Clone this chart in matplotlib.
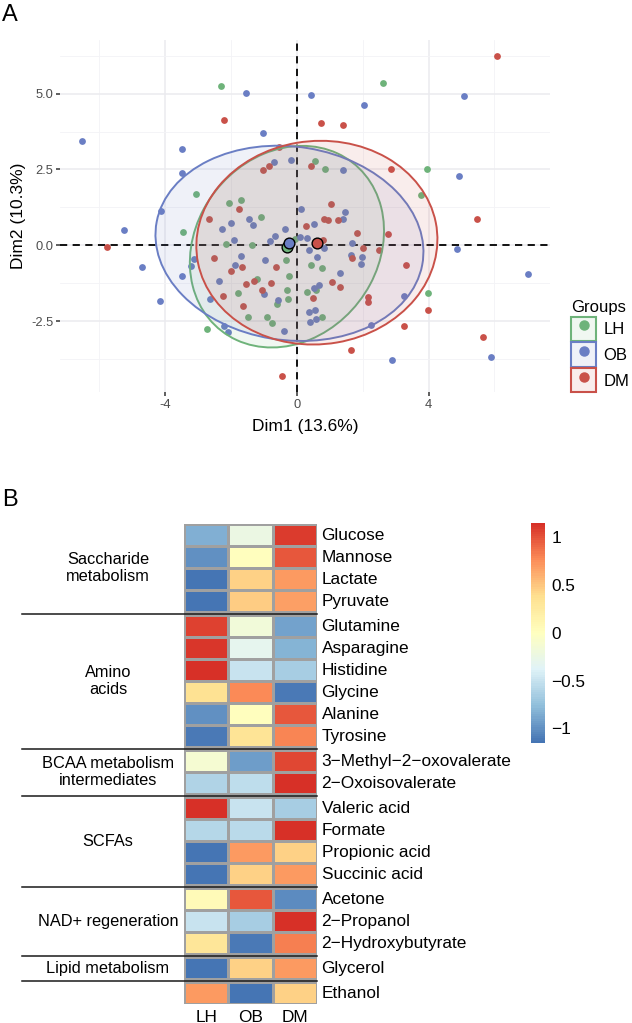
import numpy as np
import matplotlib
matplotlib.use("Agg")
import matplotlib.pyplot as plt
from matplotlib.patches import Ellipse, Patch
from matplotlib.lines import Line2D
from matplotlib.colors import LinearSegmentedColormap, Normalize, to_rgba
from matplotlib.legend_handler import HandlerTuple
from matplotlib.cm import ScalarMappable

plt.rcParams['font.family'] = ['Liberation Sans', 'DejaVu Sans']

# ---- panel A: PCA individuals ----
groups = ['LH', 'OB', 'DM']
group_colors = ['#6EB37A', '#6A7EC4', '#C95149']

lh_x = [-2.32, 2.61, -3.08, -2.06, -1.69, -1.08, 0.55, 0.86, 3.94, 3.76, 0.42, 0.75, 0.57, 0.32, 3.97, 0.77,
        -3.45, -2.16, -1.38, -0.06, -0.32, -1.22, -0.25, -1.80, -0.31, -0.26, -0.62, -1.48, -0.92, -0.75, -2.73]
lh_y = [5.25, 5.34, 1.68, 1.38, 1.50, 0.93, 2.79, 2.53, 2.52, 1.66, -0.65, -0.74, -1.47, -1.53, -1.59, -2.36,
        0.43, 0.03, 0.01, 0.19, -0.50, -1.10, -1.00, -1.57, -1.46, -1.76, -1.93, -2.35, -2.37, -2.55, -2.76]

ob_x = [-6.52, -1.55, -1.02, -3.49, -3.50, -0.70, -0.19, -4.12, -1.45, 0.12, 0.42, 2.05, 5.09, 1.40, 4.91, 1.45,
        1.40, 0.52, 0.09, 0.32, 1.68, 0.38, 0.81, 4.87, 0.61, 1.64, 1.98, 1.95, 7.01, 1.31, 0.68, 0.53, 3.26,
        0.36, 0.55, 0.40, 0.58, 2.24, 5.90, 2.88, -5.24, -2.29, -2.01, -1.32, -0.37, -0.66, -0.82, -1.92, -3.12,
        -3.22, -1.71, -1.87, -0.98, -4.71, -3.48, -2.37, -1.01, -0.58, -4.15, -2.65, -2.23, -2.08, -0.39]
ob_y = [3.43, 5.03, 3.71, 3.19, 2.37, 2.74, 2.82, 1.14, 0.85, 1.20, 4.95, 4.64, 4.92, 2.48, 2.28, 1.10,
        0.88, 0.71, 0.26, 0.24, 0.09, -0.17, -0.09, -0.11, -0.38, -0.32, -0.38, -0.61, -0.95, -0.93, -1.32, -1.40, -1.68,
        -2.19, -2.15, -2.54, -2.42, -2.63, -3.68, -3.77, 0.49, 0.53, 0.74, 0.68, 0.52, 0.32, 0.15, 0.18, -0.45,
        -0.69, -0.37, -0.66, -0.47, -0.72, -1.03, -1.19, -1.62, -1.79, -1.85, -1.76, -2.65, -2.87, -2.82]

dm_x = [-2.21, -0.55, -1.03, -0.85, -1.76, -2.67, 6.07, 0.73, 1.41, 0.42, 2.87, 1.04, 0.83, 0.95, 1.25, 5.47,
        0.29, 1.82, 2.76, 0.80, 2.02, 2.50, 1.68, 3.30, 1.08, 1.31, 0.49, 2.16, 2.17, 3.97, 3.25, 5.66, 1.65,
        -5.77, -2.52, -1.68, -0.63, -1.99, -1.30, -1.55, -0.78, -1.05, -2.24, -1.64, -0.46]
dm_y = [4.12, 3.24, 2.49, 2.61, 1.18, 0.87, 6.24, 4.04, 3.98, 2.62, 2.53, 1.35, 0.88, 0.84, 0.84, 0.85,
        0.63, 0.40, 0.38, 0.16, -0.09, -0.14, -0.41, -0.66, -1.20, -1.39, -1.75, -1.70, -1.88, -2.15, -2.66, -3.03, -3.46,
        -0.05, -0.42, -0.71, -0.71, -0.85, -1.19, -1.28, -1.23, -1.46, -1.68, -2.00, -4.30]

ellipse_level = 0.68

# ---- panel B: heatmap of scaled metabolite levels ----
metabolites = ['Glucose', 'Mannose', 'Lactate', 'Pyruvate',
               'Glutamine', 'Asparagine', 'Histidine', 'Glycine', 'Alanine', 'Tyrosine',
               '3\u2212Methyl\u22122\u2212oxovalerate', '2\u2212Oxoisovalerate',
               'Valeric acid', 'Formate', 'Propionic acid', 'Succinic acid',
               'Acetone', '2\u2212Propanol', '2\u2212Hydroxybutyrate',
               'Glycerol', 'Ethanol']
pathways = ['Saccharide\nmetabolism', 'Amino\nacids', 'BCAA metabolism\nintermediates', 'SCFAs',
            'NAD+ regeneration', 'Lipid metabolism', '']
pathway_sizes = [4, 6, 2, 4, 3, 1, 1]
hm_cols = ['LH', 'OB', 'DM']
lh_z = [-0.85, -1.00, -1.15, -1.15, 1.08, 1.12, 1.15, 0.35, -1.00, -1.12, -0.12, -0.60,
        1.15, -0.58, -1.15, -1.15, 0.05, -0.50, 0.30, -1.15, 0.70]
ob_z = [-0.25, 0.02, 0.45, 0.47, -0.17, -0.30, -0.50, 0.77, 0.02, 0.33, -0.93, -0.55,
        -0.50, -0.57, 0.70, 0.45, 0.97, -0.65, -1.12, 0.45, -1.15]
dm_z = [1.10, 0.98, 0.70, 0.68, -0.91, -0.82, -0.65, -1.12, 0.98, 0.79, 1.05, 1.15,
        -0.65, 1.15, 0.45, 0.70, -1.02, 1.15, 0.82, 0.70, 0.45]

W, H = 632, 1023
fig = plt.figure(figsize=(W / 100, H / 100), dpi=100)


def px_axes(l, t, r, b):
    return fig.add_axes([l / W, 1 - b / H, (r - l) / W, (b - t) / H])


def norm_ellipse(x, y, level):
    # same construction as ggplot2 stat_ellipse(type = "norm")
    x, y = np.asarray(x), np.asarray(y)
    d2 = len(x) - 1
    fq = d2 / 2 * ((1 - level) ** (-2 / d2) - 1)
    r = np.sqrt(2 * fq)
    vals, vecs = np.linalg.eigh(np.cov(x, y))
    ang = np.degrees(np.arctan2(vecs[1, 1], vecs[0, 1]))
    return (x.mean(), y.mean()), 2 * r * np.sqrt(vals[1]), 2 * r * np.sqrt(vals[0]), ang


ax = px_axes(60, 40, 550, 392)
ax.set_xlim(-7.2, 7.69)
ax.set_ylim(-4.84, 6.77)
for s in ax.spines.values():
    s.set_visible(False)
ax.set_xticks([-4, 0, 4])
ax.set_xticks([-6, -2, 2, 6], minor=True)
ax.set_yticks([-2.5, 0, 2.5, 5.0])
ax.set_yticks([-3.75, -1.25, 1.25, 3.75, 6.25], minor=True)
ax.set_xticklabels(['-4', '0', '4'])
ax.set_yticklabels(['-2.5', '0.0', '2.5', '5.0'])
ax.grid(which='major', color='#EBEBEF', lw=1.1)
ax.grid(which='minor', color='#F3F3F6', lw=0.6)
ax.set_axisbelow(True)
ax.tick_params(which='major', length=2.8, width=1.1, color='#333333', labelcolor='#4D4D4D',
               labelsize=9.3, pad=2)
ax.tick_params(which='minor', length=0)
ax.axhline(0, color='black', ls=(0, (4, 3)), lw=1.3, zorder=2)
ax.axvline(0, color='black', ls=(0, (4, 3)), lw=1.3, zorder=2)

pts = [(lh_x, lh_y), (ob_x, ob_y), (dm_x, dm_y)]
for (x, y), c in zip(pts, group_colors):
    ax.scatter(x, y, s=24, color=c, lw=0, zorder=3)
for (x, y), c in zip(pts, group_colors):
    ctr, w, h, ang = norm_ellipse(x, y, ellipse_level)
    ax.add_patch(Ellipse(ctr, w, h, angle=ang, facecolor=to_rgba(c, 0.1), edgecolor=c, lw=1.4, zorder=4))
for (x, y), c in zip(pts, group_colors):
    ax.scatter([np.mean(x)], [np.mean(y)], s=60, color=c, edgecolor='black', lw=1.0, zorder=6)

ax.set_xlabel('Dim1 (13.6%)', fontsize=12.5, labelpad=6)
ax.set_ylabel('Dim2 (10.3%)', fontsize=12.5, labelpad=4)

handles = [(Patch(facecolor=to_rgba(c, 0.1), edgecolor=c, lw=1.5),
            Line2D([], [], marker='o', ls='', color=c, ms=6.5)) for c in group_colors]
ax.legend(handles, groups, title='Groups', handler_map={tuple: HandlerTuple(ndivide=1, pad=0)},
          loc='upper left', bbox_to_anchor=(571 / W, 1 - 300 / H), bbox_transform=fig.transFigure,
          frameon=False, fontsize=12, title_fontsize=12, handlelength=1.5, handleheight=1.85,
          handletextpad=0.45, labelspacing=0.1, borderpad=0, borderaxespad=0, alignment='left')

fig.text(2 / W, 1 - 4 / H, 'A', fontsize=17, ha='left', va='top')
fig.text(2 / W, 1 - 489 / H, 'B', fontsize=17, ha='left', va='top')

# ---- heatmap ----
Z = np.column_stack([lh_z, ob_z, dm_z])
pal = ['#4575B4', '#91BFDB', '#E0F3F8', '#FFFFBF', '#FEE090', '#FC8D59', '#D73027']
cmap = LinearSegmentedColormap.from_list('rdylbu_r', pal, N=100)
norm = Normalize(vmin=Z.min(), vmax=Z.max())

gap = 3 / 22
n_rows = len(metabolites)
total = n_rows + gap * (len(pathway_sizes) - 1)
hm = px_axes(184.3, 524, 316.7, 1004.3)
hm.set_xlim(0, len(hm_cols))
hm.set_ylim(total, 0)
hm.axis('off')

y0 = 0.0
r0 = 0
for gi, (name, k) in enumerate(zip(pathways, pathway_sizes)):
    edges = y0 + np.arange(k + 1)
    hm.pcolormesh(np.arange(len(hm_cols) + 1), edges, Z[r0:r0 + k], cmap=cmap, norm=norm,
                  edgecolors='#A0A0A0', linewidth=0.9)
    for j in range(k):
        hm.text(3.11, y0 + j + 0.5, metabolites[r0 + j], ha='left', va='center', fontsize=12.4)
    if name:
        hm.text(-1.73, y0 + k / 2, name, ha='center', va='center', fontsize=11.8,
                linespacing=1.15, clip_on=False)
    y0 += k
    r0 += k
    if gi < len(pathway_sizes) - 1:
        hm.plot([-3.68, 3], [y0 + gap / 2] * 2, color='#1A1A1A', lw=1.1, clip_on=False)
        y0 += gap

for i, c in enumerate(hm_cols):
    hm.text(i + 0.5, total + 0.6, c, ha='center', va='center', fontsize=12.4)

cax = px_axes(530.7, 522.7, 545, 742.7)
cb = fig.colorbar(ScalarMappable(norm=norm, cmap=cmap), cax=cax)
cb.outline.set_visible(False)
ticks = [-1, -0.5, 0, 0.5, 1]
cb.set_ticks(ticks)
cb.set_ticklabels([f'{t:g}'.replace('-', '\u2212') for t in ticks])
cax.tick_params(length=0, labelsize=12.4, pad=4.5)

fig.savefig('out.png', dpi=100)
